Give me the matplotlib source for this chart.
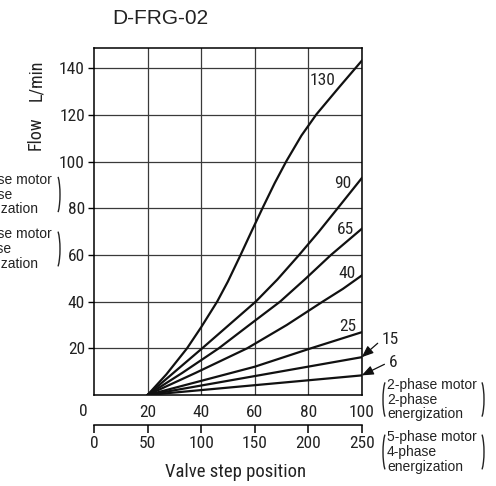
import matplotlib
matplotlib.use("Agg")
import matplotlib.pyplot as plt
from matplotlib.patches import Arc
from matplotlib.transforms import Affine2D
from matplotlib import font_manager

# valve step position (2-phase scale) and flow [L/min] per orifice curve
series_names = ["130", "90", "65", "40", "25", "15", "6"]
x_130 = [20, 27, 34.75, 40, 46, 50, 54.75, 59, 63.25, 67.5, 71.9, 77.5, 83.1, 91.5, 100]
y_130 = [0, 8.8, 20, 29, 40, 48.6, 60, 70.5, 80.8, 90.8, 100.3, 111.2, 120.3, 131.8, 143.2]
x_90 = [20, 30, 40.4, 50, 60.4, 68.5, 76.6, 84, 91, 100]
y_90 = [0, 9.8, 20, 29.6, 40, 49.5, 60, 70, 80, 92.9]
x_65 = [20, 33, 46.6, 58, 69.5, 79, 88.5, 100]
y_65 = [0, 9.5, 20, 30, 40, 49.8, 60, 71.2]
x_40 = [20, 38, 57.2, 72, 85.4, 93, 100]
y_40 = [0, 9.5, 20, 30, 40, 45.5, 51.2]
x_25 = [20, 60, 81, 100]
y_25 = [0, 12.1, 20, 26.9]
x_15 = [20, 60, 100]
y_15 = [0, 8.1, 16.2]
x_6 = [20, 60, 100]
y_6 = [0, 4.2, 8.4]

x_ticks = [20, 40, 60, 80, 100]
y_ticks = [20, 40, 60, 80, 100, 120, 140]
step_ticks = [0, 50, 100, 150, 200, 250]
mode_a = "2-phase motor\n2-phase\nenergization"
mode_b = "5-phase motor\n4-phase\nenergization"

# condensed face if one is installed, else plain sans
names = {f.name for f in font_manager.fontManager.ttflist}
cond = [n for n in ["Roboto Condensed", "Liberation Sans Narrow", "Open Sans Condensed"] if n in names]
NARROW = cond + ["Liberation Sans", "DejaVu Sans"]
TSIZE = 12.5 if cond else 11.5
REG = ["Liberation Sans", "DejaVu Sans"]
W, H = 496, 486

fig = plt.figure(figsize=(W / 100, H / 100), dpi=100)
ax = fig.add_axes([94 / W, 1 - 395 / H, 267.7 / W, 347 / H])
px = Affine2D().scale(1 / W, -1 / H).translate(0, 1) + fig.transFigure

curves = [(x_130, y_130), (x_90, y_90), (x_65, y_65), (x_40, y_40),
          (x_25, y_25), (x_15, y_15), (x_6, y_6)]
for xs, ys in curves:
    ax.plot(xs, ys, color="#111111", lw=1.6, solid_joinstyle="round", zorder=3)

ax.set_xlim(0, 100)
ax.set_ylim(0, 148.7)
ax.set_xticks(x_ticks)
ax.set_yticks(y_ticks)
ax.grid(True, color="#3a3a3a", lw=0.9)
ax.set_axisbelow(True)
for s in ax.spines.values():
    s.set_linewidth(1.1)
ax.tick_params(axis="x", length=0, pad=7)
ax.tick_params(axis="y", length=4, width=1, pad=2.5)
for lab in ax.get_xticklabels() + ax.get_yticklabels():
    lab.set_fontfamily(NARROW)
    lab.set_fontsize(TSIZE)
    lab.set_color("#222222")

# corner zero
fig.text(83.5, 411, "0", transform=px, ha="center", va="center",
         family=NARROW, fontsize=TSIZE, color="#222222")

# curve labels
label_pos = {"130": (90.1, 134.8), "90": (96.2, 90.6), "65": (97.1, 70.9),
             "40": (97.9, 52.0), "25": (97.9, 29.4)}
for name in series_names[:5]:
    lx, ly = label_pos[name]
    ax.text(lx, ly, name, ha="right", va="center", family=NARROW,
            fontsize=TSIZE, color="#222222", zorder=4)

arrow_pos = {"15": ((100, y_15[-1]), (107.4, 23.6)),
             "6": ((100, y_6[-1]), (110.0, 14.0))}
for name in series_names[5:]:
    xy, xytext = arrow_pos[name]
    ax.annotate(name, xy=xy, xytext=xytext, ha="left", va="center",
                family=NARROW, fontsize=TSIZE, color="#222222",
                annotation_clip=False,
                arrowprops=dict(arrowstyle="-|>,head_length=0.5,head_width=0.2",
                                color="#111111", lw=0.9,
                                mutation_scale=14, shrinkA=1, shrinkB=0,
                                relpos=(0, 0.5)))

# second step-position scale
sec = ax.secondary_xaxis(-30 / 347, functions=(lambda v: v * 2.5, lambda v: v / 2.5))
sec.set_xticks(step_ticks)
sec.spines["bottom"].set_linewidth(1.1)
sec.tick_params(direction="out", length=6, width=1.1, pad=2)
for lab in sec.get_xticklabels():
    lab.set_fontfamily(NARROW)
    lab.set_fontsize(TSIZE)
    lab.set_color("#222222")

fig.text(236, 472, "Valve step position", transform=px, ha="center", va="center",
         family=NARROW, fontsize=TSIZE + 1, color="#222222")
fig.text(36, 80, "L/min", transform=px, ha="center", va="center", rotation=90,
         family=NARROW, fontsize=TSIZE + 0.5, color="#222222")
fig.text(36, 133, "Flow", transform=px, ha="center", va="center", rotation=90,
         family=NARROW, fontsize=TSIZE + 0.5, color="#222222")
fig.text(160, 19, "D-FRG-02", transform=px, ha="center", va="center",
         family=REG, fontsize=15, color="#222222")


def bracket_block(x0, x1, ytop, ybot, text):
    cy = (ytop + ybot) / 2
    h = ybot - ytop
    fig.text(x0 + 4, cy, text, transform=px, ha="left", va="center",
             family=REG, fontsize=10, color="#222222", linespacing=1.05)
    fig.add_artist(Arc((x0 + 5, cy), 10, h, theta1=100, theta2=260,
                       transform=px, color="#222222", lw=1))
    fig.add_artist(Arc((x1 - 5, cy), 10, h, theta1=-80, theta2=80,
                       transform=px, color="#222222", lw=1))


bracket_block(383, 484, 378, 421, mode_a)
bracket_block(383, 484, 430, 474, mode_b)
bracket_block(-42, 60, 172, 217, mode_a)
bracket_block(-42, 60, 227, 271, mode_b)

fig.savefig("out.png", dpi=100)
